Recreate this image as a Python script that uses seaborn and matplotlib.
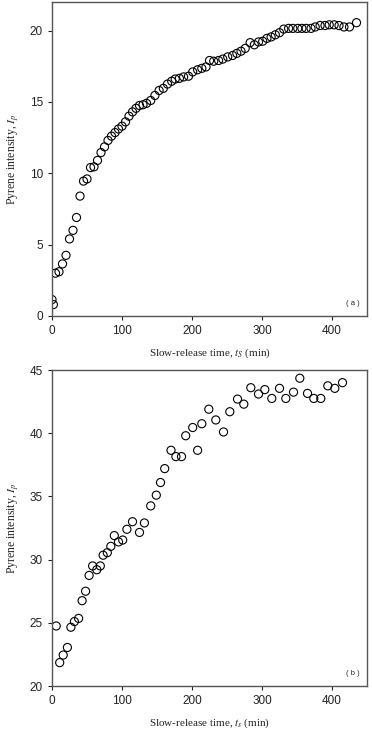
import pandas as pd
import matplotlib
matplotlib.use('Agg')
import matplotlib.pyplot as plt
import seaborn as sns

# ---- panel (a) data ----
time_a = [0, 2, 5, 10, 15, 20, 25, 30, 35, 40, 45, 50, 55, 60, 65, 70, 75, 80,
          85, 90, 95, 100, 105, 110, 115, 120, 125, 130, 135, 141, 147, 153, 159,
          165, 171, 176, 182, 188, 195, 201, 208, 214, 220, 225, 231, 238, 244,
          251, 258, 264, 270, 276, 283, 289, 295, 301, 307, 313, 319, 325, 331,
          338, 344, 351, 357, 363, 370, 376, 383, 390, 396, 403, 410, 417, 425, 435]
intensity_a = [1.15, 0.8, 3.0, 3.1, 3.65, 4.25, 5.4, 6.0, 6.9, 8.4, 9.45, 9.6, 10.4,
               10.45, 10.9, 11.45, 11.85, 12.3, 12.6, 12.85, 13.1, 13.3, 13.6, 14.0,
               14.3, 14.55, 14.75, 14.8, 14.9, 15.1, 15.45, 15.8, 15.95, 16.25, 16.45,
               16.6, 16.65, 16.75, 16.8, 17.1, 17.25, 17.35, 17.45, 17.9, 17.85, 17.9,
               18.0, 18.15, 18.25, 18.4, 18.55, 18.75, 19.15, 19.0, 19.2, 19.25, 19.45,
               19.55, 19.7, 19.85, 20.1, 20.15, 20.15, 20.15, 20.15, 20.15, 20.15,
               20.25, 20.35, 20.35, 20.4, 20.4, 20.35, 20.25, 20.25, 20.55]

# ---- panel (b) data ----
time_b = [6, 11, 16, 22, 27, 32, 38, 43, 48, 53, 58, 64, 69, 73, 79, 84, 89, 95,
          101, 107, 115, 125, 132, 141, 149, 155, 161, 170, 177, 185, 191, 201,
          208, 214, 224, 234, 245, 254, 265, 274, 284, 295, 304, 314, 325, 334,
          345, 354, 365, 374, 384, 394, 404, 415]
intensity_b = [24.75, 21.85, 22.45, 23.05, 24.65, 25.1, 25.35, 26.75, 27.5, 28.75,
               29.5, 29.2, 29.5, 30.35, 30.55, 31.05, 31.9, 31.4, 31.55, 32.4, 33.0,
               32.15, 32.9, 34.25, 35.1, 36.1, 37.2, 38.65, 38.15, 38.15, 39.8, 40.45,
               38.65, 40.75, 41.9, 41.05, 40.1, 41.7, 42.7, 42.3, 43.6, 43.1, 43.45,
               42.75, 43.55, 42.75, 43.25, 44.35, 43.15, 42.75, 42.75, 43.75, 43.55, 44.0]

df_a = pd.DataFrame({'t': time_a, 'I': intensity_a})
df_b = pd.DataFrame({'t': time_b, 'I': intensity_b})

sns.set_style('ticks')
plt.rcParams['font.family'] = ['Liberation Sans', 'DejaVu Sans']
plt.rcParams['mathtext.fontset'] = 'stix'

fig = plt.figure(figsize=(3.72, 7.33), dpi=100)
ax_a = fig.add_axes([0.1398, 0.5689, 0.8468, 0.4284])
ax_b = fig.add_axes([0.1398, 0.0641, 0.8468, 0.4311])

# U+2010 hyphen so mathtext doesn't turn "-" into a minus sign
panels = [
    (ax_a, df_a, (0, 22), [0, 5, 10, 15, 20], '( a )', 'Slow\u2010release time, $t_S$ (min)'),
    (ax_b, df_b, (20, 45), [20, 25, 30, 35, 40, 45], '( b )', 'Slow\u2010release time, $t_s$ (min)'),
]

for ax, d, ylim, yticks, tag, xlabel in panels:
    sns.scatterplot(data=d, x='t', y='I', ax=ax, s=34, marker='o',
                    facecolor='none', edgecolor='black', linewidth=0.8)
    ax.set_xlim(0, 450)
    ax.set_ylim(*ylim)
    ax.set_xticks([0, 100, 200, 300, 400])
    ax.set_yticks(yticks)
    ax.tick_params(direction='out', length=3, width=0.8, labelsize=8.5, colors='#222222')
    for sp in ax.spines.values():
        sp.set_visible(True)
        sp.set_color('#555555')
        sp.set_linewidth(1.0)
    ax.set_xlabel(xlabel, family='Liberation Serif', fontsize=8, labelpad=7)
    ax.set_ylabel('Pyrene intensity, $I_p$', family='Liberation Serif', fontsize=8.5, labelpad=6)
    ax.text(0.975, 0.03, tag, transform=ax.transAxes, ha='right', va='bottom', fontsize=5.5)

plt.savefig('out.png', dpi=100)
